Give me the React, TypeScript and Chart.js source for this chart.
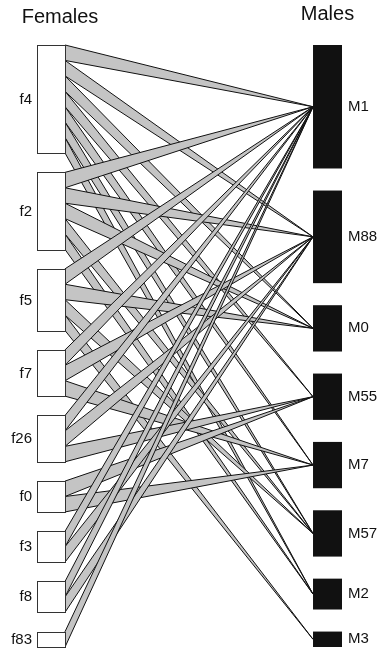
import React, { useEffect, useRef } from "react";
import { Chart, registerables } from "chart.js";

Chart.register(...registerables);

// ---- data ----
const females = ["f4", "f2", "f5", "f7", "f26", "f0", "f3", "f8", "f83"];
const femaleTotals = [7, 5, 4, 3, 3, 2, 2, 2, 1];
const males = ["M1", "M88", "M0", "M55", "M7", "M57", "M2", "M3"];
const maleTotals = [8, 6, 3, 3, 3, 3, 2, 1];
// interactions (female -> male, count)
const linkFemale = [
  "f4", "f4", "f4", "f4", "f4", "f4", "f4",
  "f2", "f2", "f2", "f2", "f2",
  "f5", "f5", "f5", "f5",
  "f7", "f7", "f7",
  "f26", "f26", "f26",
  "f0", "f0",
  "f3", "f3",
  "f8", "f8",
  "f83",
];
const linkMale = [
  "M1", "M88", "M0", "M55", "M7", "M57", "M2",
  "M1", "M88", "M0", "M57", "M2",
  "M1", "M0", "M57", "M3",
  "M1", "M88", "M7",
  "M1", "M88", "M55",
  "M55", "M7",
  "M1", "M88",
  "M1", "M88",
  "M1",
];
const linkCount = [
  1, 1, 1, 1, 1, 1, 1,
  1, 1, 1, 1, 1,
  1, 1, 1, 1,
  1, 1, 1,
  1, 1, 1,
  1, 1,
  1, 1,
  1, 1,
  1,
];
const titleLower = "Females";
const titleUpper = "Males";

// ---- layout constants ----
const GAP_TOTAL = 10; // total vertical spacing (in interaction units)
const X_MAX = 100;
const F_BOX = [0, 9.2];
const M_BOX = [90.5, 100];
const FONT = "'Liberation Sans', Arial, Helvetica, sans-serif";

function layout(totals: number[]) {
  const n = totals.length;
  const gap = n > 1 ? GAP_TOTAL / (n - 1) : 0;
  const out: { top: number; bottom: number }[] = [];
  let pos = 0;
  for (let i = 0; i < n; i++) {
    out.push({ top: pos, bottom: pos + totals[i] });
    pos += totals[i] + gap;
  }
  return out;
}

const bipartitePlugin = {
  id: "bipartite",
  afterDraw(chart: any) {
    const { ctx, scales } = chart;
    const xs = scales.x;
    const ys = scales.y;
    const fPos = layout(femaleTotals);
    const mPos = layout(maleTotals);

    const fx0 = xs.getPixelForValue(F_BOX[0]);
    const fx1 = xs.getPixelForValue(F_BOX[1]);
    const mx0 = xs.getPixelForValue(M_BOX[0]);
    const mx1 = xs.getPixelForValue(M_BOX[1]);

    // link segments along female edge, ordered by male order
    const offsets = femaleTotals.map(() => 0);
    const order = linkFemale
      .map((f, i) => i)
      .sort((a, b) => {
        const fa = females.indexOf(linkFemale[a]);
        const fb = females.indexOf(linkFemale[b]);
        if (fa !== fb) return fa - fb;
        return males.indexOf(linkMale[a]) - males.indexOf(linkMale[b]);
      });

    ctx.save();
    ctx.lineJoin = "miter";
    for (const i of order) {
      const fi = females.indexOf(linkFemale[i]);
      const mi = males.indexOf(linkMale[i]);
      const w = linkCount[i];
      const yTop = ys.getPixelForValue(fPos[fi].top + offsets[fi]);
      const yBot = ys.getPixelForValue(fPos[fi].top + offsets[fi] + w);
      offsets[fi] += w;
      const my = ys.getPixelForValue((mPos[mi].top + mPos[mi].bottom) / 2);
      ctx.beginPath();
      ctx.moveTo(fx1, yTop);
      ctx.lineTo(mx0, my);
      ctx.lineTo(fx1, yBot);
      ctx.closePath();
      ctx.fillStyle = "#c4c4c4";
      ctx.fill();
      ctx.strokeStyle = "#111111";
      ctx.lineWidth = 1;
      ctx.stroke();
    }

    // female boxes
    ctx.lineWidth = 1;
    females.forEach((name, i) => {
      const t = Math.round(ys.getPixelForValue(fPos[i].top)) + 0.5;
      const b = Math.round(ys.getPixelForValue(fPos[i].bottom)) + 0.5;
      const l = Math.round(fx0) + 0.5;
      const r = Math.round(fx1) + 0.5;
      ctx.fillStyle = "#ffffff";
      ctx.fillRect(l, t, r - l, b - t);
      ctx.strokeStyle = "#333333";
      ctx.strokeRect(l, t, r - l, b - t);
      ctx.fillStyle = "#111111";
      ctx.font = `15px ${FONT}`;
      ctx.textAlign = "right";
      ctx.textBaseline = "middle";
      ctx.fillText(name, fx0 - 5, (t + b) / 2);
    });

    // male boxes
    males.forEach((name, i) => {
      const t = ys.getPixelForValue(mPos[i].top);
      const b = ys.getPixelForValue(mPos[i].bottom);
      ctx.fillStyle = "#111111";
      ctx.fillRect(mx0, t, mx1 - mx0, b - t);
      ctx.font = `15px ${FONT}`;
      ctx.textAlign = "left";
      ctx.textBaseline = "middle";
      ctx.fillText(name, mx1 + 6, (t + b) / 2);
    });

    // titles
    ctx.font = `20px ${FONT}`;
    ctx.textAlign = "center";
    ctx.textBaseline = "alphabetic";
    ctx.fillStyle = "#111111";
    ctx.fillText(titleLower, (fx0 + fx1) / 2 + 9, 23);
    ctx.fillText(titleUpper, (mx0 + mx1) / 2, 20);
    ctx.restore();
  },
};

export default function App() {
  const ref = useRef<HTMLCanvasElement | null>(null);
  useEffect(() => {
    document.body.style.margin = "0";
    if (!ref.current) return;
    const total =
      femaleTotals.reduce((a, b) => a + b, 0) + GAP_TOTAL;
    const chart = new Chart(ref.current, {
      type: "scatter",
      data: { datasets: [] },
      options: {
        responsive: false,
        animation: false,
        layout: { padding: { left: 37, right: 39, top: 45, bottom: 5 } },
        plugins: { legend: { display: false }, tooltip: { enabled: false } },
        scales: {
          x: { type: "linear", min: 0, max: X_MAX, display: false },
          y: { type: "linear", min: 0, max: total, reverse: true, display: false },
        },
      },
      plugins: [bipartitePlugin],
    });
    return () => chart.destroy();
  }, []);
  return (
    <div style={{ position: "fixed", left: 0, top: 0, width: 381, height: 652, background: "#fff" }}>
      <canvas ref={ref} width={381} height={652} style={{ display: "block" }} />
    </div>
  );
}
